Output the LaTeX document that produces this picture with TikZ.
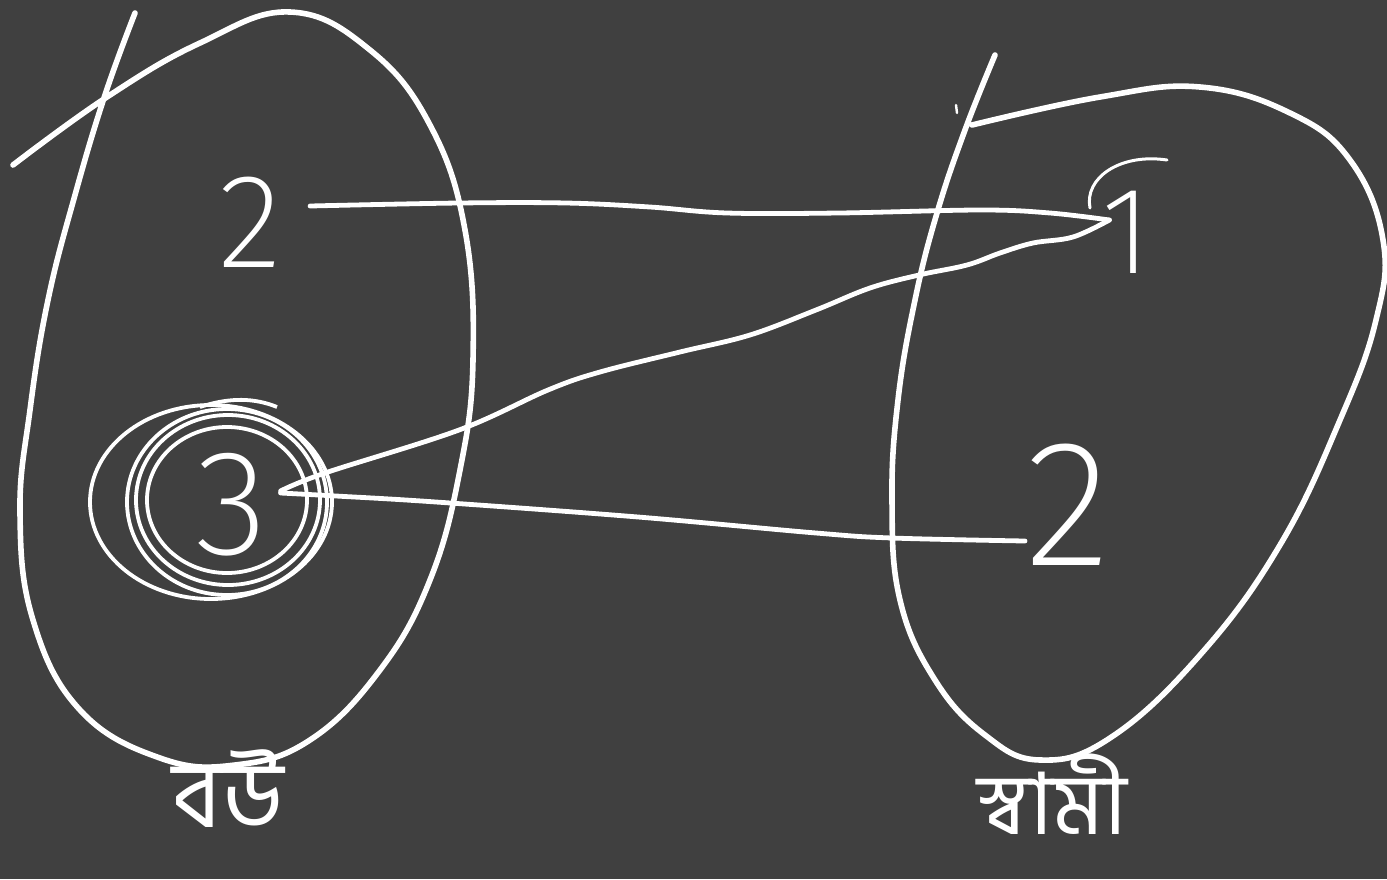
\documentclass[tikz,border=0pt]{standalone}
\usepackage{fontspec}
\usepackage{tikz}
\usetikzlibrary{positioning,calc}
\newfontfamily\handfont{Fira Sans ExtraLight}
\newfontfamily\bnfont{Hind Siliguri}[Script=Bengali]
\definecolor{board}{HTML}{404040}
\definecolor{chalk}{HTML}{FFFFFF}
\tikzset{
  blob/.style={draw=chalk,line width=2.8pt,line cap=round,line join=round},
  link/.style={draw=chalk,line width=2.4pt,line cap=round,line join=round},
  ring/.style={draw=chalk,line width=1.9pt},
  digit/.style={text=chalk,inner sep=0pt,font=\handfont\fontsize{#1}{#1}\selectfont},
  setname/.style={text=chalk,inner sep=0pt,font=\bnfont\fontsize{#1}{#1}\selectfont}
}

\begin{document}
\begin{tikzpicture}[x=0.5pt,y=-0.5pt]
  \fill[board] (0,0) rectangle (1387,879);
  \useasboundingbox (0,0) rectangle (1387,879);
  % left set
  \draw[blob] plot[smooth,tension=0.7] coordinates {(135,13) (105,95) (75,195)
    (48,300) (30,410) (20,513) (33,620) (80,710) (160,758) (235,765) (310,740)
    (380,670) (430,580) (460,470) (473,360) (465,230) (430,125) (370,50)
    (290,12) (200,43) (107,97) (13,165)};
  % right set
  \draw[blob] plot[smooth,tension=0.7] coordinates {(995,55) (965,130) (937,213)
    (915,300) (898,400) (892,500) (900,600) (935,680) (985,735) (1040,760)
    (1110,738) (1200,655) (1280,545) (1340,420) (1376,320) (1383,240)
    (1350,160) (1290,113) (1200,87) (1100,97) (972,125)};
  \draw[link,line width=1.2pt] (956,105) -- (957,113);
  % elements
  \node[digit=67] (L2) at (250,222) {2};
  \node[digit=75] (L3) at (232,505) {3};
  \node[digit=62] (R1) at (1127,232) {1};
  \node[digit=90] (R2) at (1068,505) {2};
  \draw[link,line width=1.5pt] (1090,208) .. controls (1084,178) and (1120,153) .. (1167,160);
  % rings round 3
  \draw[ring] (211,502) ellipse [x radius=121,y radius=97];
  \draw[ring] (227,502) ellipse [x radius=100,y radius=93];
  \draw[ring] (228,500) ellipse [x radius=92,y radius=85];
  \draw[ring] (227,500) ellipse [x radius=80,y radius=73];
  \draw[ring] (200,407) .. controls (230,397) and (255,398) .. (277,407);
  % relation
  \draw[link] plot[smooth,tension=0.6] coordinates {([xshift=14pt,yshift=8pt]L2.east)
    (459,203) (566,203) (650,207) (727,213) (839,213) (981,210) (1050,213)
    ([xshift=4pt,yshift=6pt]R1.west)};
  \draw[link] plot[smooth,tension=0.6] coordinates {([xshift=4pt,yshift=6pt]R1.west)
    (1073,237) (1033,243) (1000,253) (967,265) (919,275) (870,288) (816,310)
    (750,335) (680,352) (600,372) (548,390) (459,430) (325,473)
    ([xshift=6pt,yshift=7pt]L3.east)};
  \draw[link] plot[smooth,tension=0.6] coordinates {([xshift=6pt,yshift=6pt]L3.east)
    (336,496) (436,502) (638,517) (816,533) (892,538)
    ([yshift=-18pt]R2.west)};
  % set names
  \node[setname=47] (wife) at (228,789) {বউ};
  \node[setname=43,anchor=base] (husband) at (1052,834) {স্বামী};
\end{tikzpicture}
\end{document}
